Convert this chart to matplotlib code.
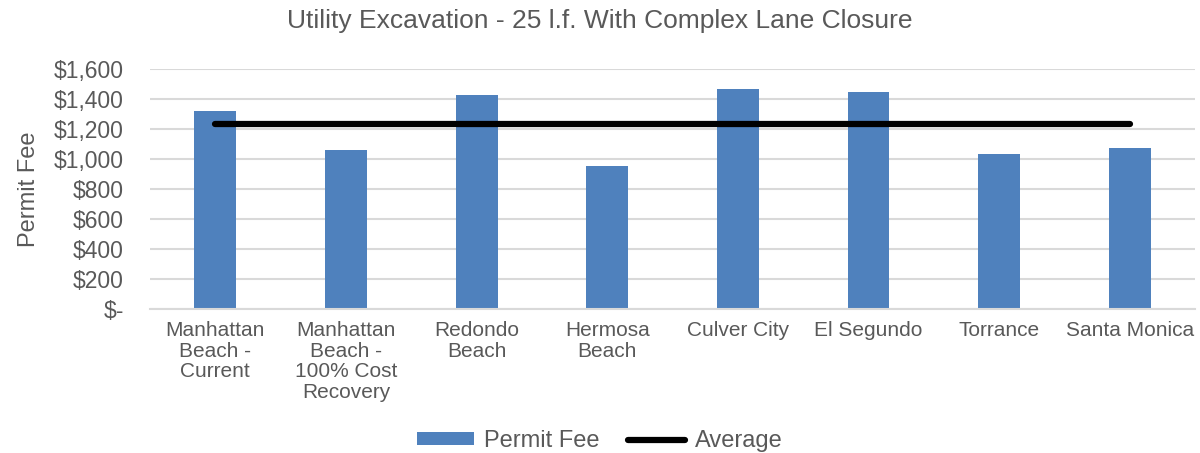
import matplotlib.pyplot as plt
from matplotlib.ticker import FuncFormatter

plt.rcParams['font.family'] = ['Liberation Sans', 'DejaVu Sans']

# 各城市许可费
cities = [
    'Manhattan\nBeach -\nCurrent',
    'Manhattan\nBeach -\n100% Cost\nRecovery',
    'Redondo\nBeach',
    'Hermosa\nBeach',
    'Culver City',
    'El Segundo',
    'Torrance',
    'Santa Monica',
]
permit_fee = [1322, 1056, 1427, 953, 1464, 1449, 1033, 1071]
average_fee = [1233] * len(cities)
yticks = [0, 200, 400, 600, 800, 1000, 1200, 1400, 1600]

text_color = '#595959'
bar_color = '#4F81BD'
grid_color = '#D9D9D9'


def money(v, pos):
    if v == 0:
        return '$-'
    return f'${v:,.0f}'


fig = plt.figure(figsize=(12, 4.53), dpi=100)
ax = fig.add_axes([0.125, 0.318, 0.871, 0.530])

x = range(len(cities))
bars = ax.bar(x, permit_fee, width=0.32, color=bar_color, label='Permit Fee', zorder=2)
line, = ax.plot(x, average_fee, color='black', linewidth=4.5, solid_capstyle='round',
                label='Average', zorder=3)

ax.set_xlim(-0.5, len(cities) - 0.5)
ax.set_ylim(0, 1600)
ax.set_yticks(yticks)
ax.yaxis.set_major_formatter(FuncFormatter(money))
ax.set_xticks(list(x))
ax.set_xticklabels(cities, fontsize=15, color=text_color, linespacing=1.1, va='top')

ax.grid(axis='y', color=grid_color, linewidth=1.5, zorder=0)
for s in ['top', 'right', 'left']:
    ax.spines[s].set_visible(False)
ax.spines['bottom'].set_color(grid_color)
ax.spines['bottom'].set_linewidth(1.5)
ax.tick_params(axis='both', length=0, colors=text_color)
ax.tick_params(axis='y', labelsize=16.5, pad=19)
ax.tick_params(axis='x', pad=9)

ax.set_ylabel('Permit Fee', fontsize=17, color=text_color, labelpad=10)
fig.suptitle('Utility Excavation - 25 l.f. With Complex Lane Closure',
             fontsize=19, color=text_color, x=0.5, y=0.98)

leg = fig.legend([bars, line], ['Permit Fee', 'Average'], loc='lower center', ncol=2,
                 frameon=False, fontsize=17, bbox_to_anchor=(0.5, -0.045),
                 handlelength=2.4, handletextpad=0.45, columnspacing=1.2,
                 handleheight=0.45)
for t in leg.get_texts():
    t.set_color(text_color)

plt.savefig('out.png', dpi=100)
